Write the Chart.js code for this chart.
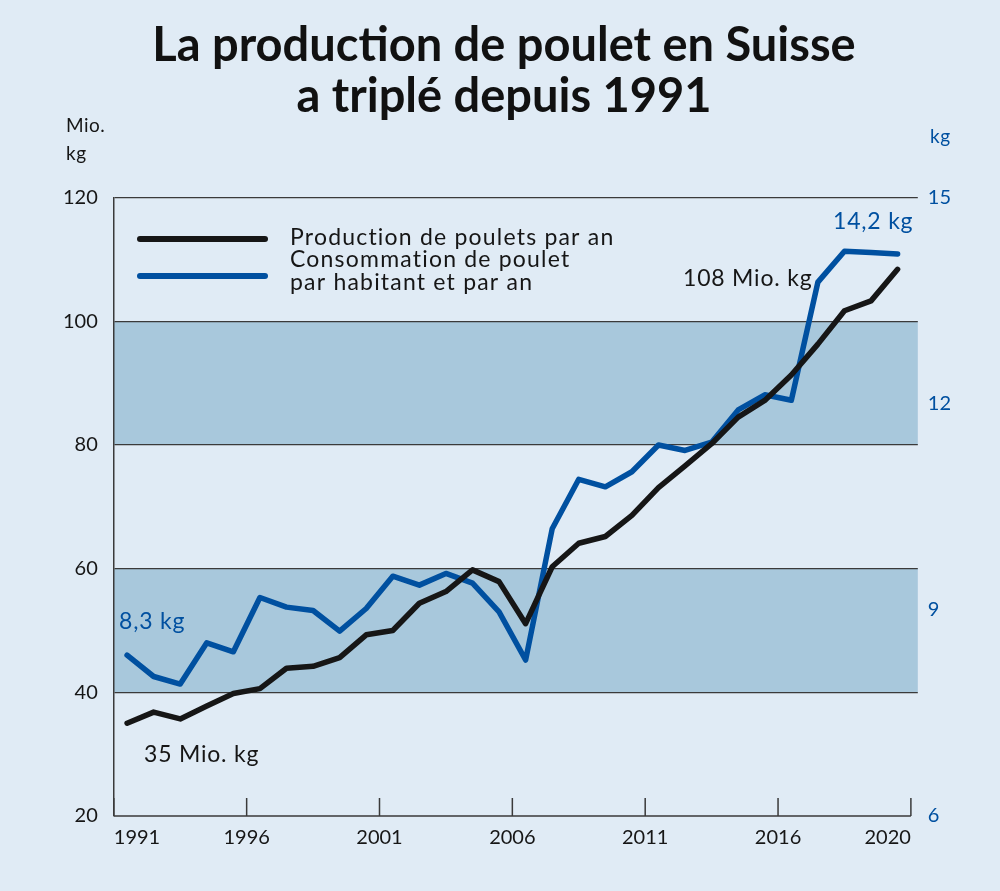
<!DOCTYPE html>
<html>
<head>
<meta charset="utf-8">
<script src="https://cdn.jsdelivr.net/npm/chart.js@4"></script>
<style>
  html, body { margin: 0; padding: 0; background: #e0ebf5; }
  #wrap { width: 1000px; height: 891px; }
</style>
</head>
<body>
<div id="wrap"><canvas id="c" width="1000" height="891"></canvas></div>
<script>
const years = [1991,1992,1993,1994,1995,1996,1997,1998,1999,2000,2001,2002,2003,2004,2005,2006,2007,2008,2009,2010,2011,2012,2013,2014,2015,2016,2017,2018,2019,2020];
const production = [35.0,36.8,35.7,37.8,39.8,40.6,43.9,44.2,45.6,49.3,50.0,54.4,56.3,59.8,57.9,51.1,60.3,64.1,65.2,68.6,73.1,76.6,80.2,84.5,87.2,91.3,96.3,101.7,103.3,108.4];
const consumption = [8.34,8.03,7.92,8.52,8.39,9.18,9.04,8.99,8.69,9.02,9.49,9.36,9.53,9.39,8.97,8.27,10.18,10.90,10.79,11.01,11.40,11.32,11.44,11.91,12.13,12.05,13.77,14.22,14.20,14.18];
const xTicks = [1991,1996,2001,2006,2011,2016,2021];
const xTickLabels = ['1991','1996','2001','2006','2011','2016','2020'];
const leftTicks = [20,40,60,80,100,120];
const rightTicks = [6,9,12,15];
const bands = [[80,100],[40,60]];
const titleLines = ['La production de poulet en Suisse','a triplé depuis 1991'];
const legendItems = [
  {label:['Production de poulets par an'], color:'#161616'},
  {label:['Consommation de poulet','par habitant et par an'], color:'#0050a0'}
];

const BG = '#e0ebf5', BAND = '#a8c8dc', BLUE = '#0050a0', BLACK = '#161616', GRID = '#3a3a3a';
const FONT = 'Lato';

const decor = {
  id: 'decor',
  beforeDraw(chart) {
    const {ctx, chartArea: a, scales} = chart;
    ctx.save();
    ctx.fillStyle = BG;
    ctx.fillRect(0, 0, chart.width, chart.height);
    ctx.fillStyle = BAND;
    bands.forEach(([lo, hi]) => {
      const y1 = scales.y.getPixelForValue(hi), y2 = scales.y.getPixelForValue(lo);
      ctx.fillRect(a.left, y1, a.right - a.left, y2 - y1);
    });
    ctx.restore();
  },
  afterDraw(chart) {
    const {ctx, chartArea: a, scales} = chart;
    const xs = scales.x;
    ctx.save();
    ctx.strokeStyle = GRID; ctx.lineWidth = 1.5;
    ctx.beginPath();
    ctx.moveTo(xs.getPixelForValue(xTicks[0]), a.bottom);
    ctx.lineTo(xs.getPixelForValue(xTicks[xTicks.length-1]), a.bottom);
    xTicks.forEach(v => {
      const px = xs.getPixelForValue(v);
      ctx.moveTo(px, a.bottom);
      ctx.lineTo(px, a.bottom - 18);
    });
    ctx.stroke();

    ctx.fillStyle = BLACK;
    ctx.font = `19px ${FONT}`;
    ctx.textAlign = 'left'; ctx.textBaseline = 'alphabetic';
    ctx.letterSpacing = '0.5px';
    ctx.fillText('Mio.', 66, 132);
    ctx.fillText('kg', 66, 160);
    ctx.fillStyle = BLUE;
    ctx.fillText('kg', 930, 143);

    const lx1 = 140, lx2 = 265;
    const lineYs = [239, 276];
    const textLines = [[245],[267,290]];
    ctx.letterSpacing = '1.2px';
    legendItems.forEach((it, i) => {
      ctx.strokeStyle = it.color; ctx.lineWidth = 6; ctx.lineCap = 'round';
      ctx.beginPath(); ctx.moveTo(lx1, lineYs[i]); ctx.lineTo(lx2, lineYs[i]); ctx.stroke();
      ctx.fillStyle = BLACK; ctx.font = `23px ${FONT}`;
      it.label.forEach((t, j) => ctx.fillText(t, 290, textLines[i][j]));
    });

    ctx.font = `23px ${FONT}`;
    ctx.letterSpacing = '0.8px';
    ctx.fillStyle = BLUE;
    ctx.fillText('8,3 kg', 119, 629);
    ctx.fillText('14,2 kg', 833, 229);
    ctx.fillStyle = BLACK;
    ctx.fillText('35 Mio. kg', 144, 762);
    ctx.fillText('108 Mio. kg', 683, 286);
    ctx.restore();
  }
};

new Chart(document.getElementById('c'), {
  type: 'line',
  data: {
    datasets: [
      {
        label: 'Production de poulets par an',
        data: years.map((yr, i) => ({x: yr + 0.5, y: production[i]})),
        borderColor: BLACK, borderWidth: 5.5, pointRadius: 0, tension: 0,
        borderJoinStyle: 'round', borderCapStyle: 'round', yAxisID: 'y'
      },
      {
        label: 'Consommation de poulet par habitant et par an',
        data: years.map((yr, i) => ({x: yr + 0.5, y: consumption[i]})),
        borderColor: BLUE, borderWidth: 5.5, pointRadius: 0, tension: 0,
        borderJoinStyle: 'round', borderCapStyle: 'round', yAxisID: 'y1'
      }
    ]
  },
  options: {
    responsive: false,
    animation: false,
    devicePixelRatio: 1,
    layout: { padding: { left: 47, right: 39, bottom: 39, top: 0 } },
    plugins: {
      legend: { display: false },
      tooltip: { enabled: false },
      title: {
        display: true,
        text: titleLines,
        color: '#111',
        font: { family: FONT, size: 47, weight: '700', lineHeight: 1.07 },
        padding: { top: 21, bottom: 76 }
      }
    },
    scales: {
      x: {
        type: 'linear',
        min: 1991,
        max: 2021.26,
        afterBuildTicks: s => { s.ticks = xTicks.map(v => ({value: v})); },
        ticks: {
          autoSkip: false, maxRotation: 0, align: 'inner',
          color: BLACK, padding: 2,
          font: { family: FONT, size: 20 },
          callback: v => xTickLabels[xTicks.indexOf(v)]
        },
        grid: { display: false },
        border: { display: false }
      },
      y: {
        position: 'left',
        min: 20, max: 120,
        afterBuildTicks: s => { s.ticks = leftTicks.map(v => ({value: v})); },
        ticks: { color: BLACK, padding: 16, font: { family: FONT, size: 20 } },
        grid: {
          drawTicks: false,
          color: c => (c.tick && c.tick.value === 20) ? 'rgba(0,0,0,0)' : GRID,
          lineWidth: 1.3
        },
        border: { display: true, color: GRID, width: 1.5 }
      },
      y1: {
        position: 'right',
        min: 6, max: 15,
        afterBuildTicks: s => { s.ticks = rightTicks.map(v => ({value: v})); },
        ticks: { color: BLUE, padding: 10, font: { family: FONT, size: 20 } },
        grid: { drawOnChartArea: false, drawTicks: false },
        border: { display: false }
      }
    }
  },
  plugins: [decor]
});
</script>
</body>
</html>
